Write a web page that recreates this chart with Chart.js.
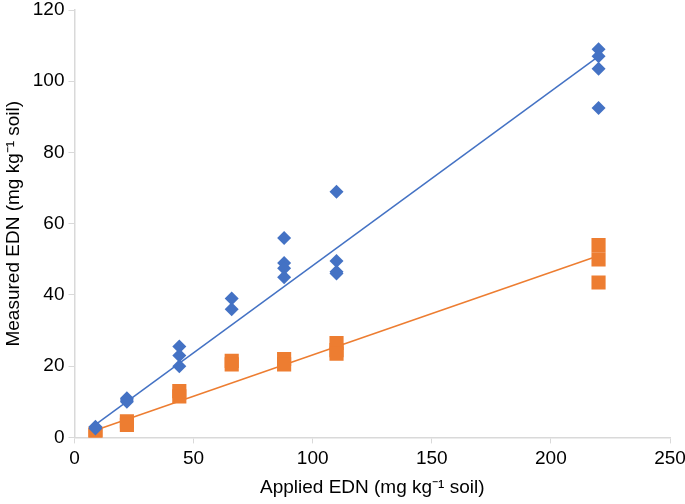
<!DOCTYPE html>
<html>
<head>
<meta charset="utf-8">
<script src="https://cdn.jsdelivr.net/npm/chart.js@4"></script>
<style>
  html, body { margin: 0; padding: 0; background: #fff; }
  #wrap { width: 685px; height: 504px; }
</style>
</head>
<body>
<div id="wrap"><canvas id="chart"></canvas></div>
<script>
// applied EDN levels (x) and measured EDN (y) for the two series
const blueX = [8.8, 8.8, 22, 22, 22, 44, 44, 44, 66, 66, 88, 88, 88, 88, 110, 110, 110, 110, 220, 220, 220, 220];
const blueY = [3, 2.5, 11, 10.5, 10, 25.5, 23, 20, 39, 36, 56, 49, 47.5, 45, 69, 49.5, 46.5, 46, 109, 107, 103.5, 92.5];

const orangeX = [8.8, 8.8, 22, 22, 44, 44, 66, 66, 88, 88, 110, 110, 110, 220, 220, 220];
const orangeY = [1, 0.5, 4.5, 3.5, 13, 11.5, 21.5, 20.5, 22, 20.5, 26.5, 24.5, 23.5, 54, 50, 43.5];

// trend line end points
const trendX = [8.8, 220];
const blueTrend = [3.6, 107];
const orangeTrend = [2, 51];

const xTicks = [0, 50, 100, 150, 200, 250];
const yTicks = [0, 20, 40, 60, 80, 100, 120];

const BLUE = '#4472C4';
const ORANGE = '#ED7D31';
const AXIS = '#d9d9d9';
const FONT = 'Liberation Sans, Arial, sans-serif';

const pts = (xs, ys) => xs.map((x, i) => ({ x: x, y: ys[i] }));

new Chart(document.getElementById('chart'), {
  type: 'scatter',
  data: {
    datasets: [
      {
        type: 'line',
        data: pts(trendX, blueTrend),
        borderColor: BLUE,
        borderWidth: 1.5,
        pointRadius: 0,
        fill: false,
        order: 3
      },
      {
        type: 'line',
        data: pts(trendX, orangeTrend),
        borderColor: ORANGE,
        borderWidth: 1.5,
        pointRadius: 0,
        fill: false,
        order: 3
      },
      {
        data: pts(blueX, blueY),
        pointStyle: 'rectRot',
        pointRadius: 7,
        backgroundColor: BLUE,
        borderColor: BLUE,
        borderWidth: 0,
        order: 1
      },
      {
        data: pts(orangeX, orangeY),
        pointStyle: 'rect',
        pointRadius: 10,
        backgroundColor: ORANGE,
        borderColor: ORANGE,
        borderWidth: 0,
        order: 2
      }
    ]
  },
  options: {
    responsive: true,
    maintainAspectRatio: false,
    animation: false,
    layout: { padding: { left: 2, top: 0, right: 0, bottom: 0 } },
    plugins: {
      legend: { display: false },
      tooltip: { enabled: false }
    },
    scales: {
      x: {
        type: 'linear',
        min: 0,
        max: 250,
        afterBuildTicks: axis => { axis.ticks = xTicks.map(v => ({ value: v })); },
        afterFit: axis => { axis.paddingRight = 15; },
        grid: { drawOnChartArea: false, drawTicks: true, tickLength: 6, color: AXIS },
        border: { color: AXIS, width: 1.5 },
        ticks: { color: '#000', font: { family: FONT, size: 19 }, padding: 4 },
        title: {
          display: true,
          text: 'Applied EDN (mg kg\u207B\u00B9 soil)',
          color: '#000',
          font: { family: FONT, size: 19 },
          padding: { top: 2, bottom: 5 }
        }
      },
      y: {
        min: 0,
        max: 120,
        afterBuildTicks: axis => { axis.ticks = yTicks.map(v => ({ value: v })); },
        afterFit: axis => { axis.paddingTop = 6; },
        grid: { drawOnChartArea: false, drawTicks: true, tickLength: 6, color: AXIS },
        border: { color: AXIS, width: 1.5 },
        ticks: { color: '#000', font: { family: FONT, size: 19 }, padding: 4 },
        title: {
          display: true,
          text: 'Measured EDN (mg kg\u207B\u00B9 soil)',
          color: '#000',
          font: { family: FONT, size: 19 },
          padding: { top: 0, bottom: 4 }
        }
      }
    }
  }
});
</script>
</body>
</html>
